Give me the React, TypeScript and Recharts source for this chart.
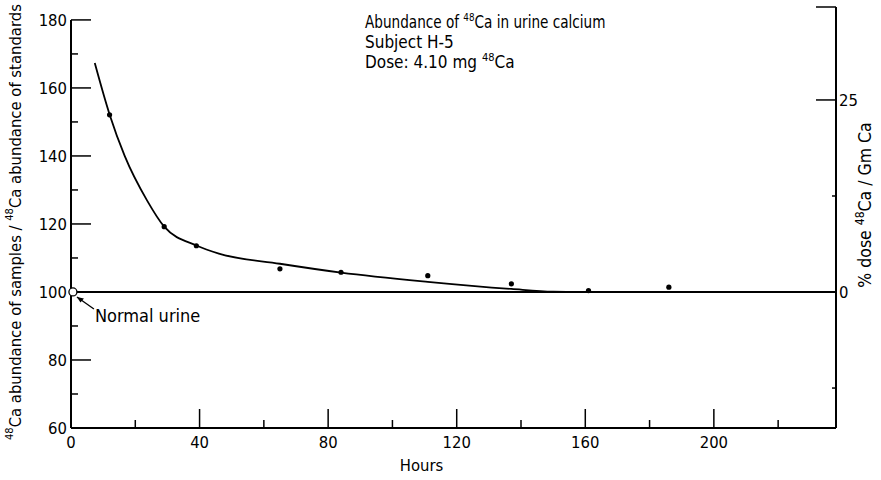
import React from "react";
import {
  ComposedChart,
  Line,
  Scatter,
  XAxis,
  YAxis,
  ReferenceLine,
  ReferenceDot,
} from "recharts";

// ---- data ----
const CURVE_HOURS = [7.4, 12, 16.7, 23.6, 29, 39.2, 46, 65, 84, 111, 137, 150, 160];
const CURVE_VALUES = [167.3, 152.2, 140, 127, 119.2, 113.6, 111.3, 108.3, 105.7, 103, 100.9, 100.1, 100];

const SAMPLE_HOURS = [12, 29, 39, 65, 84, 111, 137, 161, 186];
const SAMPLE_VALUES = [152.1, 119.2, 113.6, 106.8, 105.8, 104.8, 102.4, 100.4, 101.4];

const NORMAL_URINE = { hours: 0.6, value: 100 };

const X_TICKS = [0, 20, 40, 60, 80, 100, 120, 140, 160, 180, 200, 220];
const X_LABELED = [0, 40, 80, 120, 160, 200];
const Y_TICKS = [60, 70, 80, 90, 100, 110, 120, 130, 140, 150, 160, 170, 180];
const Y_LABELED = [60, 80, 100, 120, 140, 160, 180];
const R_TICKS = [-12.5, 0, 12.5, 25, 37.1];
const R_LABELED = [0, 25];

const X_DOMAIN = [0, 238];
const Y_DOMAIN = [60, 183.8];
const R_DOMAIN = [-17.7, 37.1];

// plot size in px (used only to convert tick-mark lengths)
const PLOT_W = 765;
const PLOT_H = 421;
const X_PER_PX = (X_DOMAIN[1] - X_DOMAIN[0]) / PLOT_W;
const Y_PER_PX = (Y_DOMAIN[1] - Y_DOMAIN[0]) / PLOT_H;

const curveData = CURVE_HOURS.map((h, i) => ({ h, v: CURVE_VALUES[i] }));
const sampleData = SAMPLE_HOURS.map((h, i) => ({ h, v: SAMPLE_VALUES[i] }));

const FONT =
  '"Liberation Sans Narrow", "DejaVu Sans Condensed", "Roboto Condensed", "Liberation Sans", Arial, sans-serif';
const FS = 16.5;

const XTick = (props: any) => {
  const { x, y, payload } = props;
  if (!X_LABELED.includes(payload.value)) return <g />;
  return (
    <text x={x} y={y + 20} textAnchor="middle" fontFamily={FONT} fontSize={FS} fill="#000">
      {payload.value}
    </text>
  );
};

const YTickLeft = (props: any) => {
  const { x, y, payload } = props;
  if (!Y_LABELED.includes(payload.value)) return <g />;
  return (
    <text x={x - 4} y={y + 6} textAnchor="end" fontFamily={FONT} fontSize={FS} fill="#000">
      {payload.value}
    </text>
  );
};

const YTickRight = (props: any) => {
  const { x, y, payload } = props;
  const major = R_LABELED.includes(payload.value) || payload.value === R_TICKS[R_TICKS.length - 1];
  return (
    <g>
      <line x1={x} x2={x - (major ? 20 : 4)} y1={y} y2={y} stroke="#000" strokeWidth={1.5} />
      {R_LABELED.includes(payload.value) && (
        <text x={x + 3} y={y + 6} textAnchor="start" fontFamily={FONT} fontSize={FS} fill="#000">
          {payload.value}
        </text>
      )}
    </g>
  );
};

const LeftLabel = () => {
  const cx = 16;
  const cy = 222;
  return (
    <text
      x={cx}
      y={cy}
      transform={`rotate(-90 ${cx} ${cy})`}
      textAnchor="middle"
      dominantBaseline="middle"
      fontFamily={FONT}
      fontSize={16.5}
      fill="#000"
    >
      <tspan fontSize={11} dy={-6}>48</tspan>
      <tspan dy={6}>Ca abundance of samples / </tspan>
      <tspan fontSize={11} dy={-6}>48</tspan>
      <tspan dy={6}>Ca abundance of standards</tspan>
    </text>
  );
};

const RightLabel = () => {
  const cx = 866;
  const cy = 205;
  return (
    <text
      x={cx}
      y={cy}
      transform={`rotate(-90 ${cx} ${cy})`}
      textAnchor="middle"
      dominantBaseline="middle"
      fontFamily={FONT}
      fontSize={17.5}
      fill="#000"
    >
      <tspan>% dose </tspan>
      <tspan fontSize={12} dy={-6}>48</tspan>
      <tspan dy={6}>Ca / Gm Ca</tspan>
    </text>
  );
};

const HoursLabel = (props: any) => {
  const vb = props.viewBox || {};
  const cx = (vb.x || 0) + (vb.width || 0) / 2 - 32;
  const y = (vb.y || 0) + 43;
  return (
    <text x={cx} y={y} textAnchor="middle" fontFamily={FONT} fontSize={FS} fill="#000">
      Hours
    </text>
  );
};

const NormalUrineLabel = (props: any) => {
  const vb = props.viewBox || {};
  const cx = (vb.x || 0) + (vb.width || 0) / 2;
  const cy = (vb.y || 0) + (vb.height || 0) / 2;
  const ax = cx + 4;
  const ay = cy + 5;
  return (
    <g>
      <line x1={cx + 21} y1={cy + 17} x2={ax} y2={ay} stroke="#000" strokeWidth={1.3} />
      <path d={`M${ax},${ay} l7,1.5 l-3.5,4 z`} fill="#000" />
      <text x={cx + 22} y={cy + 30.5} fontFamily={FONT} fontSize={18} fill="#000">
        Normal urine
      </text>
    </g>
  );
};

const Dot = (props: any) => {
  const { cx, cy } = props;
  return <circle cx={cx} cy={cy} r={2.6} fill="#000" />;
};

export default function App() {
  return (
    <div style={{ position: "absolute", left: 0, top: 0, width: 881, height: 480, background: "#fff" }}>
      <ComposedChart
        width={881}
        height={480}
        margin={{ top: 7, right: 15, bottom: 22, left: 11 }}
      >
        <XAxis
          type="number"
          dataKey="h"
          domain={X_DOMAIN}
          ticks={X_TICKS}
          interval={0}
          tick={<XTick />}
          tickLine={false}
          tickSize={0}
          tickMargin={0}
          axisLine={{ stroke: "#000", strokeWidth: 2 }}
          height={30}
          allowDataOverflow
          label={<HoursLabel />}
        />
        <YAxis
          yAxisId="l"
          type="number"
          domain={Y_DOMAIN}
          ticks={Y_TICKS}
          interval={0}
          tick={<YTickLeft />}
          tickLine={false}
          tickSize={0}
          tickMargin={0}
          axisLine={false}
          width={60}
          allowDataOverflow
          label={<LeftLabel />}
        />
        <YAxis
          yAxisId="r"
          orientation="right"
          type="number"
          domain={R_DOMAIN}
          ticks={R_TICKS}
          interval={0}
          tick={<YTickRight />}
          tickLine={false}
          tickSize={0}
          tickMargin={0}
          axisLine={{ stroke: "#000", strokeWidth: 2 }}
          width={30}
          allowDataOverflow
          label={<RightLabel />}
        />
        {/* inward tick marks on the bottom axis */}
        {X_TICKS.filter((t) => t !== 0).map((t) => (
          <ReferenceLine
            key={`xt${t}`}
            yAxisId="l"
            segment={[
              { x: t, y: Y_DOMAIN[0] },
              { x: t, y: Y_DOMAIN[0] + (X_LABELED.includes(t) ? 19 : 8) * Y_PER_PX },
            ]}
            stroke="#000"
            strokeWidth={1.5}
            ifOverflow="visible"
          />
        ))}
        {/* inward tick marks on the left axis */}
        {Y_TICKS.map((t) => (
          <ReferenceLine
            key={`yt${t}`}
            yAxisId="l"
            segment={[
              { x: 0, y: t },
              { x: (Y_LABELED.includes(t) ? 20 : 7) * X_PER_PX, y: t },
            ]}
            stroke="#000"
            strokeWidth={1.5}
            ifOverflow="visible"
          />
        ))}
        {/* left axis line (only up to 180) */}
        <ReferenceLine
          yAxisId="l"
          segment={[
            { x: 0, y: 60 },
            { x: 0, y: 180 },
          ]}
          stroke="#000"
          strokeWidth={2}
          ifOverflow="visible"
        />
        <ReferenceLine yAxisId="l" y={100} stroke="#000" strokeWidth={2} />
        <Line
          yAxisId="l"
          data={curveData}
          dataKey="v"
          type="monotone"
          stroke="#000"
          strokeWidth={1.8}
          dot={false}
          isAnimationActive={false}
        />
        <Scatter
          yAxisId="l"
          data={sampleData}
          dataKey="v"
          shape={<Dot />}
          isAnimationActive={false}
        />
        <ReferenceDot
          yAxisId="l"
          x={NORMAL_URINE.hours}
          y={NORMAL_URINE.value}
          r={4}
          fill="#fff"
          stroke="#000"
          strokeWidth={1.3}
          ifOverflow="visible"
          label={<NormalUrineLabel />}
        />
      </ComposedChart>
      <svg
        width={881}
        height={480}
        style={{ position: "absolute", left: 0, top: 0, pointerEvents: "none" }}
      >
        <g transform="translate(365 28) scale(0.89 1)">
          <text fontFamily={FONT} fontSize={17} fill="#000" x={0} y={0}>
            Abundance of <tspan fontSize={11} dy={-7}>48</tspan>
            <tspan dy={7}>Ca in urine calcium</tspan>
          </text>
        </g>
        <text fontFamily={FONT} fontSize={17} fill="#000" x={365} y={48}>
          Subject H-5
        </text>
        <text fontFamily={FONT} fontSize={17} fill="#000" x={365} y={68}>
          Dose: 4.10 mg <tspan fontSize={11} dy={-7}>48</tspan>
          <tspan dy={7}>Ca</tspan>
        </text>
      </svg>
    </div>
  );
}
